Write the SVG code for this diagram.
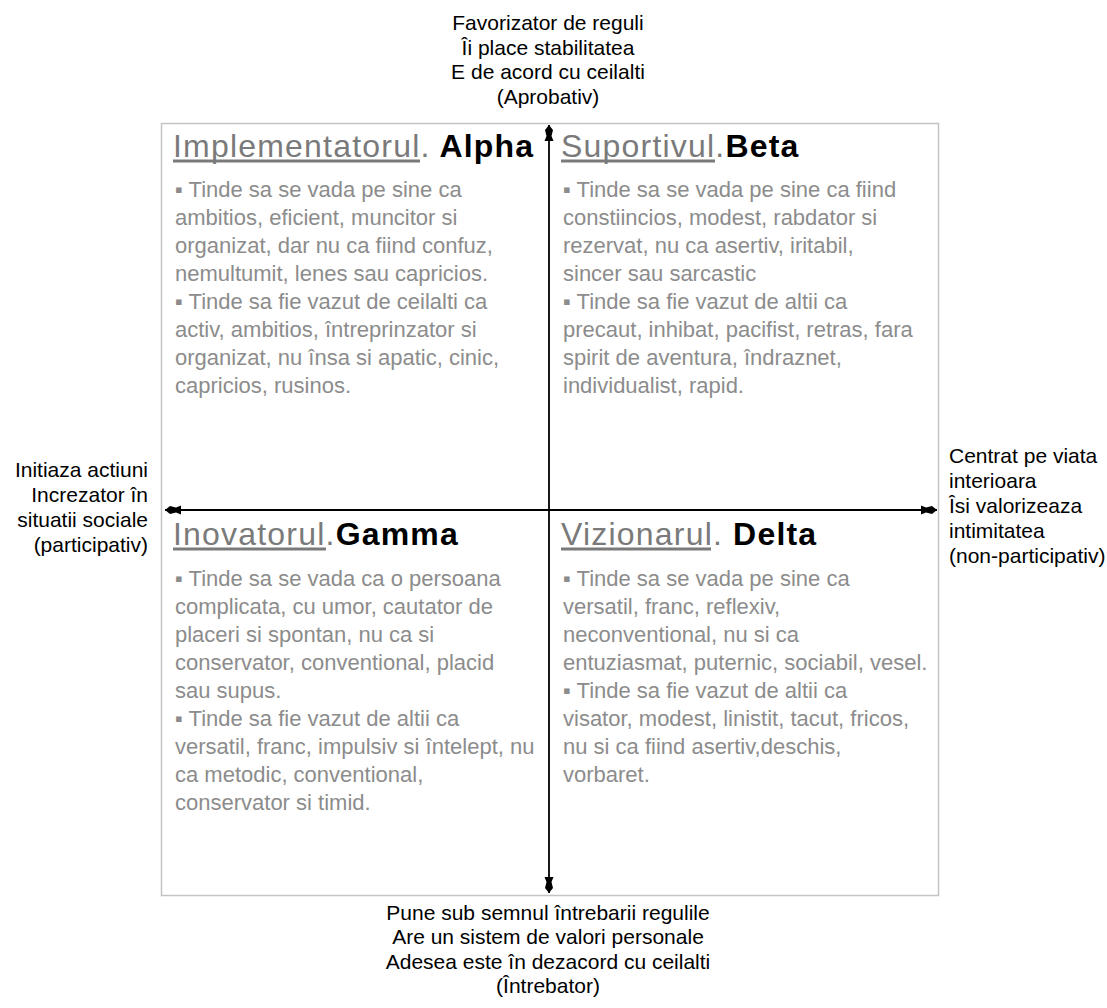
<svg xmlns="http://www.w3.org/2000/svg" width="1107" height="1008" viewBox="0 0 1107 1008">
<style>
.axl{font-family:"Liberation Sans",Arial,sans-serif;font-size:21px;fill:#000}
.hd{font-family:"Liberation Sans",Arial,sans-serif;font-size:32px;letter-spacing:1.2px}
.hg{fill:#7a7a7a}
.hb{fill:#000;font-weight:bold}
.ul{stroke:#7a7a7a;stroke-width:3}
.bd{font-family:"Liberation Sans",Arial,sans-serif;font-size:22px;fill:#8c8c8c}
.ax{stroke:#000;stroke-width:1.8;fill:none}
</style>
<defs>
<marker id="pen" markerUnits="userSpaceOnUse" markerWidth="20" markerHeight="12" viewBox="-18 -6 20 12" refX="0" refY="0" orient="auto-start-reverse">
<path d="M0,0 L-5,-4 L-11,-2.5 L-16,-4.5 L-16,4.5 L-11,2.5 L-5,4 Z" fill="#000"/>
</marker>
</defs>
<rect x="161.5" y="123.5" width="777" height="772" fill="#fff" stroke="#c4c4c4" stroke-width="1.5"/>

<g id="connectors">
<line class="ax" x1="549" y1="893" x2="549" y2="125" marker-start="url(#pen)" marker-end="url(#pen)"/>
<line class="ax" x1="937" y1="510" x2="165" y2="510" marker-start="url(#pen)" marker-end="url(#pen)"/>
</g>

<g id="label-top" class="axl" text-anchor="middle">
<text x="548" y="30">Favorizator de reguli</text>
<text x="548" y="55">Îi place stabilitatea</text>
<text x="548" y="79">E de acord cu ceilalti</text>
<text x="548" y="104">(Aprobativ)</text>
</g>
<g id="label-bottom" class="axl" text-anchor="middle">
<text x="548" y="920">Pune sub semnul întrebarii regulile</text>
<text x="548" y="944">Are un sistem de valori personale</text>
<text x="548" y="969">Adesea este în dezacord cu ceilalti</text>
<text x="548" y="993">(Întrebator)</text>
</g>
<g id="label-left" class="axl" text-anchor="end">
<text x="148" y="477">Initiaza actiuni</text>
<text x="148" y="502">Increzator în</text>
<text x="148" y="527">situatii sociale</text>
<text x="148" y="552">(participativ)</text>
</g>
<g id="label-right" class="axl">
<text x="949" y="463">Centrat pe viata</text>
<text x="949" y="488">interioara</text>
<text x="949" y="513">Îsi valorizeaza</text>
<text x="949" y="538">intimitatea</text>
<text x="949" y="563">(non-participativ)</text>
</g>

<g id="alpha">
<text class="hd" x="173" y="157"><tspan class="hg">Implementatorul.</tspan><tspan class="hb"> Alpha</tspan></text>
<line class="ul" x1="173" y1="161" x2="420" y2="161"/>
<g class="bd">
<text x="175" y="197">▪ Tinde sa se vada pe sine ca</text>
<text x="175" y="225">ambitios, eficient, muncitor si</text>
<text x="175" y="253">organizat, dar nu ca fiind confuz,</text>
<text x="175" y="281">nemultumit, lenes sau capricios.</text>
<text x="175" y="309">▪ Tinde sa fie vazut de ceilalti ca</text>
<text x="175" y="337">activ, ambitios, întreprinzator si</text>
<text x="175" y="365">organizat, nu însa si apatic, cinic,</text>
<text x="175" y="393">capricios, rusinos.</text>
</g>
</g>

<g id="beta">
<text class="hd" x="561" y="157"><tspan class="hg">Suportivul.</tspan><tspan class="hb">Beta</tspan></text>
<line class="ul" x1="561" y1="161" x2="715" y2="161"/>
<g class="bd">
<text x="563" y="197">▪ Tinde sa se vada pe sine ca fiind</text>
<text x="563" y="225">constiincios, modest, rabdator si</text>
<text x="563" y="253">rezervat, nu ca asertiv, iritabil,</text>
<text x="563" y="281">sincer sau sarcastic</text>
<text x="563" y="309">▪ Tinde sa fie vazut de altii ca</text>
<text x="563" y="337">precaut, inhibat, pacifist, retras, fara</text>
<text x="563" y="365">spirit de aventura, îndraznet,</text>
<text x="563" y="393">individualist, rapid.</text>
</g>
</g>

<g id="gamma">
<text class="hd" x="173" y="545"><tspan class="hg">Inovatorul.</tspan><tspan class="hb">Gamma</tspan></text>
<line class="ul" x1="173" y1="549" x2="326" y2="549"/>
<g class="bd">
<text x="175" y="586">▪ Tinde sa se vada ca o persoana</text>
<text x="175" y="614">complicata, cu umor, cautator de</text>
<text x="175" y="642">placeri si spontan, nu ca si</text>
<text x="175" y="670">conservator, conventional, placid</text>
<text x="175" y="698">sau supus.</text>
<text x="175" y="726">▪ Tinde sa fie vazut de altii ca</text>
<text x="175" y="754">versatil, franc, impulsiv si întelept, nu</text>
<text x="175" y="782">ca metodic, conventional,</text>
<text x="175" y="810">conservator si timid.</text>
</g>
</g>

<g id="delta">
<text class="hd" x="561" y="545"><tspan class="hg">Vizionarul.</tspan><tspan class="hb"> Delta</tspan></text>
<line class="ul" x1="561" y1="549" x2="711" y2="549"/>
<g class="bd">
<text x="563" y="586">▪ Tinde sa se vada pe sine ca</text>
<text x="563" y="614">versatil, franc, reflexiv,</text>
<text x="563" y="642">neconventional, nu si ca</text>
<text x="563" y="670">entuziasmat, puternic, sociabil, vesel.</text>
<text x="563" y="698">▪ Tinde sa fie vazut de altii ca</text>
<text x="563" y="726">visator, modest, linistit, tacut, fricos,</text>
<text x="563" y="754">nu si ca fiind asertiv,deschis,</text>
<text x="563" y="782">vorbaret.</text>
</g>
</g>
</svg>
